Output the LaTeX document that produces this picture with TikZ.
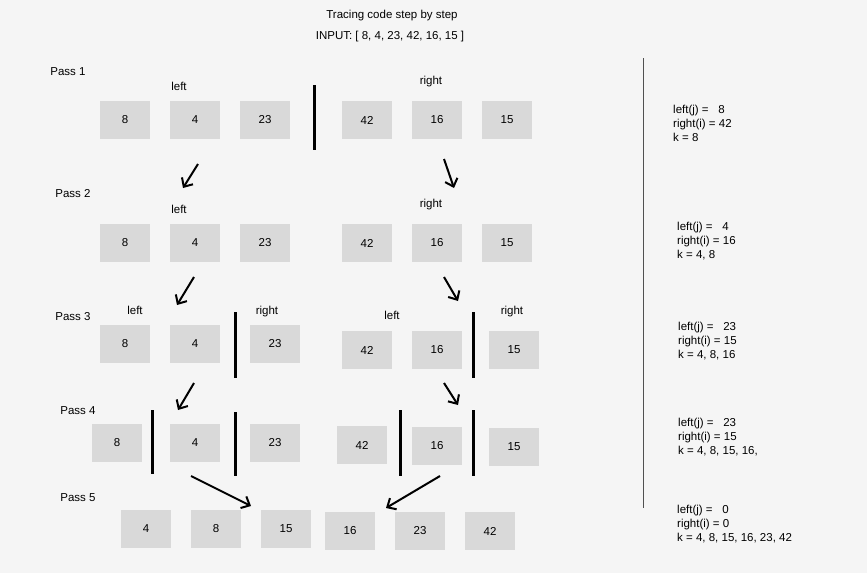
\documentclass[tikz,border=0pt]{standalone}
\usepackage{fontspec}
\setmainfont{Liberation Sans}
\usetikzlibrary{arrows.meta, positioning}
\definecolor{bggray}{HTML}{F5F5F5}
\definecolor{cellgray}{HTML}{D9D9D9}
\definecolor{rulegray}{HTML}{505050}

\begin{document}
\begin{tikzpicture}[x=1pt, y=-1pt, font=\fontsize{11.5pt}{13pt}\selectfont,
		cell/.style={fill=cellgray, minimum width=50pt, minimum height=38pt, inner sep=0pt},
		info/.style={align=left, anchor=north west, inner sep=0pt, font=\fontsize{11.5pt}{14pt}\selectfont},
		bar/.style={line width=3pt},
		move/.style={line width=2pt, -{Straight Barb[length=7pt, width=13pt]}}]
		\path[fill=bggray] (0,0) rectangle (867,573);
		% header
		\node (title) at (392,16) {Tracing code step by step};
		\node (input) at (390,37) {INPUT: [ 8, 4, 23, 42, 16, 15 ]};
		\node (pass1) at (68,72) {Pass 1};
		\node (pass2) at (73,194) {Pass 2};
		\node (pass3) at (73,317) {Pass 3};
		\node (pass4) at (78,411) {Pass 4};
		\node (pass5) at (78,498) {Pass 5};
		% pass 1
		\node (left1) at (179,86) {left};
		\node (right1) at (431,82) {right};
		\node[cell] (r1-8) at (125,120) {8};
		\node[cell] (r1-4) at (195,120) {4};
		\node[cell] (r1-23) at (265,120) {23};
		\node[cell] (r1-42) at (367,120) {42};
		\node[cell] (r1-16) at (437,120) {16};
		\node[cell] (r1-15) at (507,120) {15};
		\draw[bar] (314,85) -- (314,150);
		% pass 2
		\node (left2) at (179,209) {left};
		\node (right2) at (431,205) {right};
		\node[cell] (r2-8) at (125,243) {8};
		\node[cell] (r2-4) at (195,243) {4};
		\node[cell] (r2-23) at (265,243) {23};
		\node[cell] (r2-42) at (367,243) {42};
		\node[cell] (r2-16) at (437,243) {16};
		\node[cell] (r2-15) at (507,243) {15};
		% pass 3
		\node (left3a) at (135,310) {left};
		\node (right3a) at (267,312) {right};
		\node (left3b) at (392,315) {left};
		\node (right3b) at (512,312) {right};
		\node[cell] (r3-8) at (125,344) {8};
		\node[cell] (r3-4) at (195,344) {4};
		\node[cell] (r3-23) at (275,344) {23};
		\node[cell] (r3-42) at (367,350) {42};
		\node[cell] (r3-16) at (437,350) {16};
		\node[cell] (r3-15) at (514,350) {15};
		\draw[bar] (235,312) -- (235,378);
		\draw[bar] (473,312) -- (473,378);
		% pass 4
		\node[cell] (r4-8) at (117,443) {8};
		\node[cell] (r4-4) at (195,443) {4};
		\node[cell] (r4-23) at (275,443) {23};
		\node[cell] (r4-42) at (362,445) {42};
		\node[cell] (r4-16) at (437,446) {16};
		\node[cell] (r4-15) at (514,447) {15};
		\draw[bar] (152,410) -- (152,474);
		\draw[bar] (235,412) -- (235,476);
		\draw[bar] (400,410) -- (400,476);
		\draw[bar] (473,410) -- (473,476);
		% pass 5
		\node[cell] (r5-4) at (146,529) {4};
		\node[cell] (r5-8) at (216,529) {8};
		\node[cell] (r5-15) at (286,529) {15};
		\node[cell] (r5-16) at (350,531) {16};
		\node[cell] (r5-23) at (420,531) {23};
		\node[cell] (r5-42) at (490,531) {42};
		% moves between passes
		\coordinate (m1l-s) at (198,164); \coordinate (m1l-e) at (183,188);
		\coordinate (m1r-s) at (444,159); \coordinate (m1r-e) at (454,188);
		\coordinate (m2l-s) at (194,277); \coordinate (m2l-e) at (177,305);
		\coordinate (m2r-s) at (444,277); \coordinate (m2r-e) at (458,301);
		\coordinate (m3l-s) at (194,383); \coordinate (m3l-e) at (178,410);
		\coordinate (m3r-s) at (444,383); \coordinate (m3r-e) at (458,405);
		\coordinate (m4l-s) at (191,476); \coordinate (m4l-e) at (251,506);
		\coordinate (m4r-s) at (440,476); \coordinate (m4r-e) at (386,508);
		\path [draw, move] (m1l-s) -- (m1l-e);
		\path [draw, move] (m1r-s) -- (m1r-e);
		\path [draw, move] (m2l-s) -- (m2l-e);
		\path [draw, move] (m2r-s) -- (m2r-e);
		\path [draw, move] (m3l-s) -- (m3l-e);
		\path [draw, move] (m3r-s) -- (m3r-e);
		\path [draw, move] (m4l-s) -- (m4l-e);
		\path [draw, move] (m4r-s) -- (m4r-e);
		% trace column
		\draw[rulegray, line width=0.8pt] (643,58) -- (643,508);
		\node[info] (trace1) at (673,105) {left(j) =~~~8\\right(i) = 42\\k = 8};
		\node[info] (trace2) at (677,222) {left(j) =~~~4\\right(i) = 16\\k = 4, 8};
		\node[info] (trace3) at (678,322) {left(j) =~~~23\\right(i) = 15\\k = 4, 8, 16};
		\node[info] (trace4) at (678,418) {left(j) =~~~23\\right(i) = 15\\k = 4, 8, 15, 16,};
		\node[info] (trace5) at (677,505) {left(j) =~~~0\\right(i) = 0\\k = 4, 8, 15, 16, 23, 42};
	\end{tikzpicture}
\end{document}
